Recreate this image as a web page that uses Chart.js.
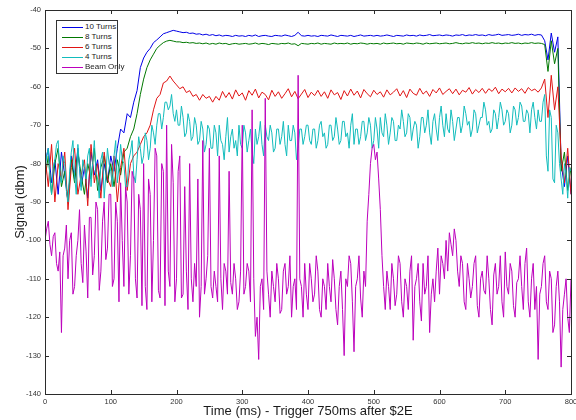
<!DOCTYPE html>
<html>
<head>
<meta charset="utf-8">
<script src="https://cdn.jsdelivr.net/npm/chart.js@4.4.1/dist/chart.umd.min.js"></script>
<style>
    body {
        margin: 0;
        background: #fff;
        font-family: Arial, "Liberation Sans", sans-serif;
    }

    .wrap {
        position: relative;
        width: 576px;
        height: 420px;
    }

    .legend {
        position: absolute;
        left: 56px;
        top: 20px;
        width: 60px;
        height: 51px;
        border: 1px solid #333;
        background: #fff;
        padding-top: 1px;
    }

    .legend .row {
        position: relative;
        height: 10px;
        font-size: 8px;
        line-height: 10px;
        color: #222;
    }

    .legend .swatch {
        position: absolute;
        display: block;
        left: 5px;
        top: 5px;
        width: 21px;
        height: 0;
        border-top: 1px solid #000;
    }

    .legend .label {
        position: absolute;
        left: 28px;
        top: 0;
        white-space: nowrap;
    }
</style>
</head>
<body>
<div class="wrap">
    <canvas id="signalChart" width="576" height="420"></canvas>
    <div class="legend" id="legend"></div>
</div>
<script>
const seriesNames = ['10 Turns', '8 Turns', '6 Turns', '4 Turns', 'Beam Only'];
const seriesColors = ['#0000e6', '#007800', '#e01414', '#12bcbc', '#bc00bc'];
// sample spacing of each trace (ms)
const seriesSteps = [5, 5, 5, 2.5, 2.5];

const xTicks = [0, 100, 200, 300, 400, 500, 600, 700, 800];
const yTicks = [-140, -130, -120, -110, -100, -90, -80, -70, -60, -50, -40];

// 10 Turns, 0..800 ms every 5 ms
const turns10 = [
    -80, -76, -85, -79, -88, -77, -83, -90, -78, -84, -76, -86, -81, -89, -77, -83, -79, -87, -80, -85, -78, -82,
    -76, -71, -72, -67, -68, -64, -61, -55, -52.5, -51, -50, -48.5, -47.8, -47, -46.2, -45.9, -45.6, -45.3, -45.5,
    -45.7, -45.9, -45.8, -46.1, -46.0, -46.3, -46.2, -46.5, -46.3, -46.6,
    -46.4, -46.7, -46.5, -46.8, -46.6, -46.7, -46.9, -46.6, -46.8, -46.7,
    -46.9, -46.6, -46.8, -46.5, -46.9, -46.7, -46.6, -46.8, -46.9, -46.6,
    -46.7, -46.8, -46.5, -46.7, -46.9, -46.6, -45.8, -46.7, -46.8, -46.6,
    -46.8, -46.7, -46.9, -46.6, -46.7, -46.8, -46.5, -46.7, -46.9, -46.6,
    -46.7, -46.8, -46.6, -46.9, -46.7, -46.5, -46.8, -46.7, -46.6, -46.8,
    -46.6, -46.8, -46.7, -46.5, -46.7, -46.9, -46.6, -46.7, -46.8, -46.5,
    -46.7, -46.6, -46.8, -46.5, -46.7, -46.6, -46.4, -46.7, -46.6, -46.5,
    -46.7, -46.5, -46.6, -46.8, -46.5, -46.6, -46.4, -46.7, -46.5, -46.6,
    -46.4, -46.6, -46.5, -46.7, -46.4, -46.6, -46.5, -46.3, -46.6, -46.5,
    -46.4, -46.6, -46.5, -46.3, -46.6, -46.4, -46.5, -46.3, -46.6, -46.4,
    -46.5,
    -48, -53, -46, -51, -47,
    -80, -86, -78, -88
];

// 8 Turns, every 5 ms
const turns8 = [
    -84, -78, -88, -80, -76, -86, -82, -90, -79, -85, -77, -83, -88, -80, -84, -76, -87, -81, -78, -85, -80, -86, -79, -83, -77,
    -76, -73, -71, -67, -62, -58, -55, -53, -51.5, -50, -49.2, -48.5, -48.1, -47.9, -48.1, -48.3,
    -48.3, -48.5, -48.4, -48.6, -48.5, -48.7, -48.6, -48.8, -48.6, -48.9,
    -48.7, -48.9, -48.6, -48.8, -48.7, -49.0, -48.8, -48.7, -48.9, -48.8,
    -48.7, -48.9, -48.8, -48.6, -48.9, -48.7, -48.8, -49.0, -48.7, -48.8,
    -48.9, -48.7, -48.8, -48.6, -48.9, -48.8, -49.3, -48.7, -48.8, -48.9,
    -48.7, -48.8, -48.6, -48.9, -48.7, -48.8, -48.9, -48.6, -48.8, -48.7,
    -48.8, -48.6, -48.9, -48.7, -48.8, -48.6, -48.7, -48.9, -48.7, -48.8,
    -48.7, -48.9, -48.6, -48.8, -48.7, -48.6, -48.8, -48.7, -48.9, -48.6,
    -48.7, -48.8, -48.6, -48.7, -48.9, -48.6, -48.8, -48.7, -48.6, -48.8,
    -48.7, -48.6, -48.8, -48.7, -48.5, -48.7, -48.8, -48.6, -48.7, -48.5,
    -48.7, -48.6, -48.8, -48.6, -48.7, -48.5, -48.7, -48.6, -48.8, -48.6,
    -48.7, -48.5, -48.7, -48.6, -48.8, -48.6, -48.7, -48.5, -48.7, -48.6,
    -48.7,
    -49, -56, -48, -54, -50,
    -82, -77, -87, -81
];

// 6 Turns, every 5 ms
const turns6 = [
    -78, -86, -75, -90, -80, -84, -77, -92, -81, -76,
    -88, -83, -79, -91, -75, -85, -80, -89, -77, -84,
    -86, -78, -90, -81, -76, -87, -80, -78, -77,
    -75, -73, -72, -70, -66, -63, -62, -59, -58.5, -57.2, -58.5, -59.5, -60.5, -60, -61.5, -61, -62.5, -62, -63.5, -62, -63, -62.5, -64, -62.5, -63.5,
    -61.2, -62.8, -61.5, -63.2, -60.8, -62.4, -61.6, -63.5, -61.0, -62.2,
    -60.6, -62.9, -61.4, -62.0, -63.4, -60.9, -62.5, -61.3, -63.0, -61.8,
    -60.5, -62.6, -61.2, -63.1, -61.9, -60.7, -62.8, -61.4, -62.3, -60.9,
    -62.5, -61.3, -63.0, -60.8, -62.1, -61.5, -63.3, -61.0, -62.4, -60.6,
    -62.2, -61.1, -62.9, -60.7, -61.8, -62.6, -60.9, -62.0, -61.3, -62.7,
    -60.8, -62.1, -61.4, -60.5, -62.4, -61.0, -62.8, -60.6, -61.7, -62.2,
    -60.4, -61.9, -61.1, -62.5, -60.7, -61.6, -60.3, -62.0, -61.2, -60.5,
    -61.8, -60.6, -62.1, -60.9, -61.4, -60.2, -61.9, -60.7, -61.5, -60.4,
    -61.7, -60.5, -61.2, -60.1, -61.8, -60.6, -61.3, -60.4, -61.6, -60.3,
    -61.2, -60.5, -61.7, -60.2, -61.0, -60.6, -61.4, -60.3,
    -58, -68, -57, -66, -60,
    -78, -85, -76, -88
];

// 4 Turns, every 2.5 ms (one row = 25 ms)
const turns4 = [
    -82, -78, -76, -84, -88, -81, -79, -75, -74, -83,
    -85, -78, -80, -87, -90, -82, -77, -74, -83, -88,
    -75, -81, -87, -79, -81, -84, -78, -76, -86, -80,
    -74, -82, -84, -89, -79, -77, -89, -83, -76, -80,
    -82, -86, -78, -74, -85, -81, -75, -79, -80, -86,
    -86, -79, -77, -74, -83, -85, -79, -73, -76, -80,
    -78, -72, -74, -79, -76, -70, -72, -75, -70, -67,
    -67, -71, -68, -64, -64, -66, -65, -62, -67, -69,
    -66, -70, -70, -65, -68, -73, -72, -67, -69, -74,
    -73, -68, -70, -75, -74, -69, -71, -77, -75, -70,
    -71, -76, -76, -70, -72, -78, -70, -74, -75, -79,
    -73, -68, -77, -73, -71, -76, -74, -78, -70, -75,
    -76, -70, -72, -77, -74, -71, -77, -80, -71, -75,
    -73, -69, -75, -78, -70, -73, -74, -70, -72, -77,
    -76, -71, -71, -75, -73, -69, -75, -78, -70, -74,
    -74, -70, -72, -79, -76, -71, -71, -75, -73, -70,
    -70, -74, -75, -71, -71, -76, -74, -70, -69, -73,
    -72, -76, -75, -70, -70, -74, -73, -68, -71, -75,
    -74, -69, -69, -73, -72, -76, -70, -67, -75, -71,
    -71, -75, -73, -69, -69, -74, -72, -68, -70, -76,
    -74, -68, -71, -76, -68, -72, -73, -67, -70, -75,
    -72, -68, -69, -74, -74, -70, -71, -66, -69, -73,
    -72, -67, -68, -74, -71, -69, -70, -76, -73, -68,
    -68, -72, -70, -66, -72, -75, -69, -67, -71, -74,
    -68, -65, -70, -73, -67, -71, -72, -66, -69, -74,
    -71, -68, -68, -72, -70, -65, -67, -70, -69, -73,
    -71, -66, -67, -72, -70, -68, -68, -64, -66, -70,
    -69, -72, -71, -66, -67, -71, -68, -64, -66, -70,
    -69, -66, -67, -72, -70, -65, -66, -70, -68, -64,
    -65, -69, -69, -66, -67, -72, -66, -64, -68, -71,
    -66, -69, -69, -64, -62, -78, -82, -66, -68, -84,
    -85, -70, -72, -80, -84, -88, -80, -83, -89, -81,
    -82
];

// Beam Only, every 2.5 ms (one row = 25 ms)
const beamOnly = [
    -100, -97, -95, -101, -104, -99, -98, -106, -108, -103,
    -124, -104, -102, -96, -110, -100, -98, -114, -112, -104,
    -100, -92, -106, -111, -96, -103, -115, -94, -94, -109,
    -104, -90, -92, -113, -108, -95, -90, -105, -102, -88,
    -88, -112, -110, -90, -95, -116, -85, -100, -112, -86,
    -90, -114, -104, -82, -84, -110, -115, -88, -92, -117,
    -80, -112, -118, -84, -88, -116, -100, -76, -78, -113,
    -115, -80, -82, -117, -70, -108, -112, -75, -85, -116,
    -110, -82, -78, -115, -114, -86, -108, -118, -80, -110,
    -116, -106, -112, -84, -120, -112, -74, -114, -110, -104,
    -76, -112, -115, -108, -112, -116, -78, -110, -118, -106,
    -108, -114, -82, -111, -114, -106, -110, -118, -116, -108,
    -70, -114, -112, -106, -108, -116, -66, -110, -125, -120,
    -131, -112, -110, -118, -63, -108, -114, -120, -108, -112,
    -116, -106, -110, -119, -118, -108, -106, -114, -112, -104,
    -120, -112, -110, -118, -57, -110, -112, -120, -106, -114,
    -118, -106, -110, -116, -114, -104, -108, -118, -120, -110,
    -112, -118, -106, -112, -116, -105, -110, -118, -122, -112,
    -108, -118, -130, -110, -112, -104, -106, -116, -129, -112,
    -110, -104, -115, -120, -108, -112, -95, -88, -80, -76,
    -75, -79, -77, -84, -92, -104, -112, -118, -108, -112,
    -118, -106, -110, -117, -114, -104, -106, -116, -120, -110,
    -112, -118, -108, -104, -126, -112, -110, -106, -116, -121,
    -106, -114, -112, -104, -124, -114, -110, -116, -108, -102,
    -114, -104, -106, -110, -100, -108, -98, -101, -104, -97,
    -100, -108, -112, -104, -106, -116, -118, -106, -110, -115,
    -112, -106, -104, -117, -120, -110, -108, -113, -114, -104,
    -110, -118, -122, -109, -106, -114, -112, -104, -116, -120,
    -103, -112, -114, -106, -108, -117, -120, -111, -110, -104,
    -112, -118, -106, -102, -116, -120, -110, -106, -118, -112,
    -131, -114, -112, -106, -104, -116, -118, -108, -110, -124,
    -122, -112, -108, -116, -133, -118, -114, -110, -120, -124,
    -110
];

const seriesValues = [turns10, turns8, turns6, turns4, beamOnly];

function toPoints(values, step) {
    return values.map((v, i) => ({ x: i * step, y: v }));
}

// MATLAB style box with inward ticks on all four sides
const boxPlugin = {
    id: 'matlabBox',
    afterDraw(chart) {
        const ctx = chart.ctx;
        const a = chart.chartArea;
        const xs = chart.scales.x;
        const ys = chart.scales.y;
        const len = 4;
        ctx.save();
        ctx.strokeStyle = '#2b2b2b';
        ctx.lineWidth = 1;
        ctx.beginPath();
        xTicks.forEach(t => {
            const px = Math.round(xs.getPixelForValue(t)) + 0.5;
            ctx.moveTo(px, a.bottom);
            ctx.lineTo(px, a.bottom - len);
            ctx.moveTo(px, a.top);
            ctx.lineTo(px, a.top + len);
        });
        yTicks.forEach(t => {
            const py = Math.round(ys.getPixelForValue(t)) + 0.5;
            ctx.moveTo(a.left, py);
            ctx.lineTo(a.left + len, py);
            ctx.moveTo(a.right, py);
            ctx.lineTo(a.right - len, py);
        });
        ctx.stroke();
        ctx.strokeRect(Math.round(a.left) + 0.5, Math.round(a.top) + 0.5,
            Math.round(a.right - a.left), Math.round(a.bottom - a.top));
        ctx.restore();
    }
};

const ctx = document.getElementById('signalChart').getContext('2d');
new Chart(ctx, {
    type: 'line',
    data: {
        datasets: seriesNames.map((name, i) => ({
            label: name,
            data: toPoints(seriesValues[i], seriesSteps[i]),
            borderColor: seriesColors[i],
            backgroundColor: seriesColors[i],
            borderWidth: 1,
            pointRadius: 0,
            tension: 0,
            fill: false,
            order: seriesNames.length - 1 - i  // last series drawn on top, like MATLAB
        }))
    },
    options: {
        responsive: false,
        animation: false,
        events: [],
        layout: {
            padding: { left: 0, right: 5, top: 10, bottom: 0 }
        },
        plugins: {
            legend: { display: false },
            tooltip: { enabled: false }
        },
        scales: {
            x: {
                type: 'linear',
                min: 0,
                max: 800,
                afterBuildTicks: scale => { scale.ticks = xTicks.map(v => ({ value: v })); },
                afterFit: scale => {
                    scale.height = 26;
                    scale.paddingLeft = 0;
                    scale.paddingRight = 0;
                },
                grid: { display: false, drawTicks: false },
                border: { display: false },
                ticks: {
                    autoSkip: false,
                    maxRotation: 0,
                    padding: 3,
                    color: '#333',
                    font: { family: 'Arial, "Liberation Sans"', size: 7.5 }
                },
                title: {
                    display: true,
                    text: 'Time (ms) - Trigger 750ms after $2E',
                    color: '#1a1a1a',
                    padding: { top: 0, bottom: 1 },
                    font: { family: 'Arial, "Liberation Sans"', size: 13 }
                }
            },
            y: {
                type: 'linear',
                min: -140,
                max: -40,
                afterBuildTicks: scale => { scale.ticks = yTicks.map(v => ({ value: v })); },
                afterFit: scale => {
                    scale.width = 45;
                    scale.paddingTop = 0;
                    scale.paddingBottom = 0;
                },
                grid: { display: false, drawTicks: false },
                border: { display: false },
                ticks: {
                    autoSkip: false,
                    padding: 4,
                    color: '#333',
                    font: { family: 'Arial, "Liberation Sans"', size: 7.5 }
                },
                title: {
                    display: true,
                    text: 'Signal (dbm)',
                    color: '#1a1a1a',
                    padding: { top: 13, bottom: 0 },
                    font: { family: 'Arial, "Liberation Sans"', size: 13 }
                }
            }
        }
    },
    plugins: [boxPlugin]
});

// legend box in the upper left corner, as in the figure
const legendEl = document.getElementById('legend');
seriesNames.forEach((name, i) => {
    const row = document.createElement('div');
    row.className = 'row';
    const swatch = document.createElement('span');
    swatch.className = 'swatch';
    swatch.style.borderTopColor = seriesColors[i];
    const label = document.createElement('span');
    label.className = 'label';
    label.textContent = name;
    row.appendChild(swatch);
    row.appendChild(label);
    legendEl.appendChild(row);
});
</script>
</body>
</html>
